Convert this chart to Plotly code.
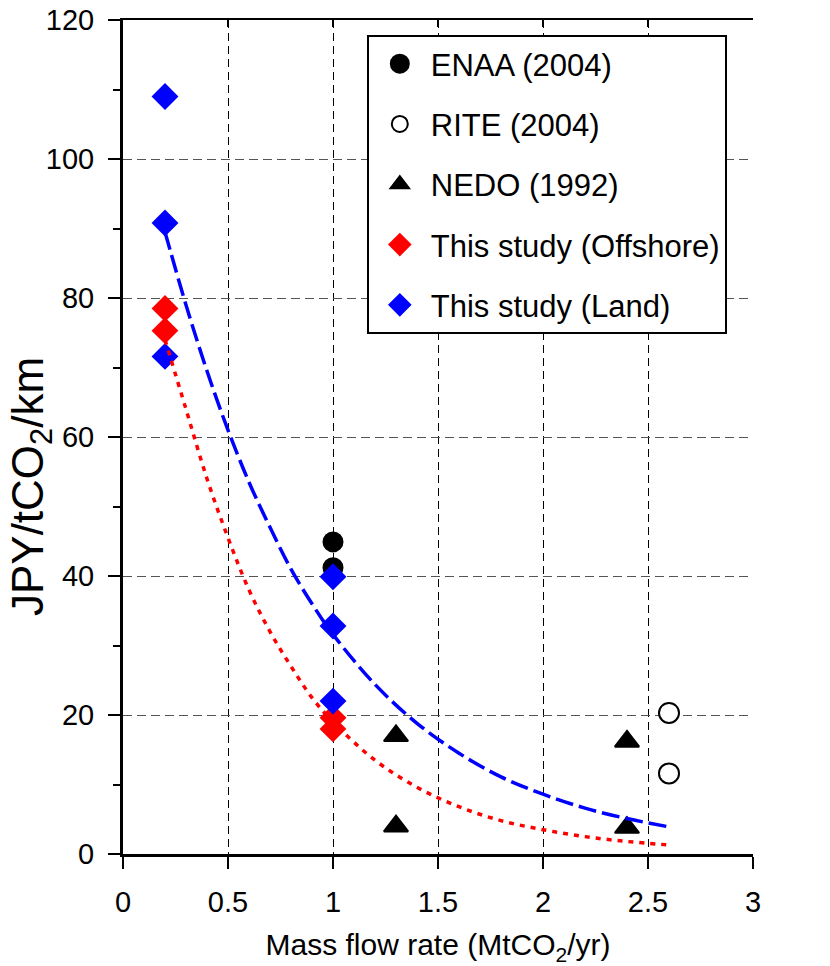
import plotly.graph_objects as go

# Literature cost data (JPY/tCO2/km) versus mass flow rate (MtCO2/yr)
enaa_x = [1.0, 1.0]
enaa_y = [44.9, 41.2]

rite_x = [2.6, 2.6]
rite_y = [20.3, 11.6]

nedo_x = [1.3, 1.3, 2.4, 2.4]
nedo_y = [17.0, 4.0, 16.2, 3.8]

# This study
offshore_x = [0.2, 0.2, 1.0, 1.0]
offshore_y = [78.5, 75.3, 19.6, 18.0]

land_x = [0.2, 0.2, 0.2, 1.0, 1.0, 1.0]
land_y = [109.0, 90.8, 71.6, 39.9, 32.8, 22.0]

# Trend curves
trend_x = [0.2, 0.3, 0.4, 0.5, 0.6, 0.7, 0.8, 0.9, 1.0, 1.2, 1.4, 1.6, 1.8, 2.0, 2.2, 2.4, 2.6]
trend_land = [89.5, 79.0, 69.5, 61.0, 53.5, 47.0, 41.0, 36.0, 31.6, 24.4, 18.8, 14.5, 11.1, 8.6, 6.6, 5.1, 3.9]
trend_offshore = [74.0, 64.0, 54.0, 45.5, 38.0, 32.0, 27.0, 22.5, 19.0, 13.5, 9.6, 6.8, 4.8, 3.5, 2.5, 1.8, 1.3]

x_ticks = [0, 0.5, 1, 1.5, 2, 2.5, 3]
x_tick_labels = ["0", "0.5", "1", "1.5", "2", "2.5", "3"]
y_ticks = [0, 20, 40, 60, 80, 100, 120]
y2_ticks = [0, 50, 100, 150, 200, 250]

FONT = "Liberation Sans, Arial, sans-serif"

fig = go.Figure()

# Marker outlines in the fill colour keep the legend symbols close to the plotted size
fig.add_trace(go.Scatter(
    x=enaa_x, y=enaa_y, mode="markers", name="ENAA (2004)", legendgroup="a",
    marker=dict(symbol="circle", size=17, color="black", line=dict(color="black", width=4))))
fig.add_trace(go.Scatter(
    x=rite_x, y=rite_y, mode="markers", name="RITE (2004)", legendgroup="b",
    marker=dict(symbol="circle", size=20, color="white", line=dict(color="black", width=2))))
fig.add_trace(go.Scatter(
    x=nedo_x, y=nedo_y, mode="markers", name="NEDO (1992)", legendgroup="c",
    marker=dict(symbol="triangle-up", size=21, color="black", line=dict(color="black", width=2))))
fig.add_trace(go.Scatter(
    x=offshore_x, y=offshore_y, mode="markers", name="This study (Offshore)", legendgroup="d",
    marker=dict(symbol="diamond", size=18.5, color="#ff0000", line=dict(color="#ff0000", width=2))))
fig.add_trace(go.Scatter(
    x=land_x, y=land_y, mode="markers", name="This study (Land)", legendgroup="e",
    marker=dict(symbol="diamond", size=18.5, color="#0000ff", line=dict(color="#0000ff", width=2))))

# Fitted curves drawn on the overlaying x axis so they sit above the markers
fig.add_trace(go.Scatter(
    x=trend_x, y=trend_land, mode="lines", showlegend=False, xaxis="x2", yaxis="y",
    line=dict(color="#0000ff", width=3.5, dash="18px,6px", shape="spline")))
fig.add_trace(go.Scatter(
    x=trend_x, y=trend_offshore, mode="lines", showlegend=False, xaxis="x2", yaxis="y",
    line=dict(color="#ff0000", width=3.5, dash="5px,6px", shape="spline")))

fig.update_layout(
    width=830, height=966,
    margin=dict(l=123, r=77, t=20, b=112),
    paper_bgcolor="white", plot_bgcolor="white",
    font=dict(family=FONT, size=29, color="black"),
    xaxis=dict(
        range=[0, 3], tickvals=x_ticks, ticktext=x_tick_labels,
        ticks="outside", ticklen=12, tickwidth=2, tickcolor="black",
        ticklabelstandoff=8, automargin=False,
        showline=True, linewidth=3, linecolor="black",
        showgrid=True, gridcolor="black", gridwidth=1, griddash="8px,5px",
        zeroline=False,
        title=dict(text="Mass flow rate (MtCO<sub>2</sub>/yr)", font=dict(size=30), standoff=18),
    ),
    xaxis2=dict(
        range=[0, 3], tickvals=x_ticks, overlaying="x", side="top",
        ticks="inside", ticklen=7, tickwidth=1.5, tickcolor="black",
        showticklabels=False, showline=True, linewidth=2, linecolor="black",
        showgrid=False, zeroline=False, automargin=False,
    ),
    yaxis=dict(
        range=[0, 120], tickvals=y_ticks,
        ticks="outside", ticklen=12, tickwidth=2, tickcolor="black",
        ticklabelstandoff=8, automargin=False,
        minor=dict(dtick=10, ticks="outside", ticklen=7, tickwidth=2, tickcolor="black", showgrid=False),
        showline=True, linewidth=3, linecolor="black",
        showgrid=True, gridcolor="#555555", gridwidth=1, griddash="9px,5px",
        zeroline=False,
    ),
    yaxis2=dict(
        range=[0, 250], tickvals=y2_ticks, overlaying="y", side="right",
        ticks="outside", ticklen=12, tickwidth=2, tickcolor="black",
        ticklabelstandoff=10, automargin=False,
        showline=True, linewidth=3, linecolor="black",
        showgrid=False, zeroline=False,
    ),
    legend=dict(
        x=0.387, y=0.982, xanchor="left", yanchor="top",
        bgcolor="white", bordercolor="black", borderwidth=2,
        font=dict(size=31), traceorder="grouped", tracegroupgap=17,
        itemwidth=52,
    ),
    annotations=[dict(
        text="JPY/tCO<sub>2</sub>/km", textangle=-90, showarrow=False,
        xref="paper", yref="paper", x=-0.146, y=0.44,
        xanchor="center", yanchor="middle", font=dict(size=44),
    )],
)

fig.write_html("out.html")
